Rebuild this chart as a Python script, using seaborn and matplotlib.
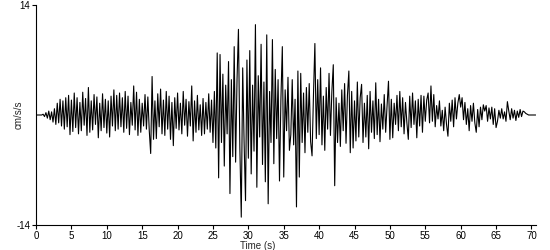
import numpy as np
import pandas as pd
import matplotlib
matplotlib.use("Agg")
import matplotlib.pyplot as plt
import seaborn as sns

# sampling step of the read-off trace (s)
dt = 0.2

# acceleration (cm/s/s)
pre_event = [
    0, 0, 0, 0, 0, 0.1, -0.2, 0.3, -0.4, 0.5,
    -0.6, 0.4, -0.9, 0.8, -1.2, 1.5, -1.0, 2.0, -1.4, 1.8,
    -1.8, 2.2, -1.5, 2.5, -2.5, 1.9, -2.1, 2.8, -1.6, 2.2,
    -2.4, 1.6, -2.0, 2.9, -1.3, 2.1, -2.6, 3.5, -2.2, 1.8,
    -1.9, 2.6, -1.2, 2.3, -2.9, 1.5, -2.0, 2.7, -1.6, 2.0,
    -2.3, 1.8, -2.8, 2.4, -1.4, 3.2, -2.0, 2.5, -1.8, 2.8,
    -1.5, 2.2, -2.2, 3.0, -1.7, 2.4, -2.5, 1.6, -1.3, 3.7,
    -1.9, 2.9, -2.6, 2.0, -2.2, 1.5, -1.4, 2.6, -1.8, 2.3,
    -2.0, -4.9, 4.9, -3.1, 1.8, -3.0, 2.7, -1.5, 3.3, -2.4,
    1.9, -2.6, 3.0, -1.8, 2.4, -3.1, 1.6, -3.9, 2.2, -1.7,
    2.8, -1.9, 1.5, -2.4, 3.0, -1.3, 2.0, -2.7, 1.7, -1.4,
    3.7, -3.3, 1.8, -2.2, 2.5, -1.9, 1.3, -2.6, 2.1, -2.4,
    1.6, -1.8, 2.7, -2.2, 1.9, -3.5, 3.0, -4.2, 7.9, -8.0,
]
strong_motion = [
    7.7, -3.5, 5.2, -6.5, 3.8, -2.4, 6.8, -10.0, 4.5, -5.3,
    8.7, -6.0, 4.5, 10.9, -4.2, -13.0, 6.0, -3.5, -10.9, 7.0,
    -5.5, 8.2, -7.5, 3.8, -4.6, 11.5, -9.2, 5.0, -2.8, 9.0,
    -6.3, 4.2, -8.5, 10.2, -11.3, 3.0, -3.5, 9.6, -6.2, 5.8,
    -3.0, 4.5, -8.4, 2.0, 8.7, -7.9, 3.2, -2.0, 4.8, -4.5,
    -2.5, 4.5, -3.8, 2.0, -11.7, 5.6, -7.9, 5.3, -3.5, 2.8,
    -4.8, 3.5, -2.2, 4.0, -3.4, -5.2, 2.5, 9.1, -3.0, 4.5,
    -2.5, 6.0, -3.8, 2.4, -4.5, 3.5, -1.8, 5.3, -2.6, 3.0,
    6.4, -9.0, 2.2, -3.5, 1.5, -4.0, 3.2, -2.0, 4.0, -3.6,
]
coda = [
    2.5, 5.6, -4.8, 3.0, -4.2, 1.8, -3.3, 4.2, -2.8, 2.2,
    3.9, -3.5, 1.5, -2.8, 2.5, -4.3, 3.0, -2.2, 1.8, -3.0,
    4.1, -2.5, 2.0, -3.4, 1.4, -1.8, 2.6, -2.2, 1.2, 4.3,
    -3.1, 2.0, -2.9, 1.5, -1.2, 2.5, -2.0, 3.0, -1.5, 2.2,
    -2.4, 1.6, -1.0, -3.1, 2.4, -1.6, 2.8, -1.2, 1.8, -2.9,
    2.0, -1.4, 2.5, -2.2, 2.4, -0.8, 1.9, 2.8, -1.0, 3.7,
    -0.8, 2.6, -1.5, 1.2, -0.5, 1.8, -1.4, 0.6, -2.0, 1.0,
    -1.2, -2.7, 1.5, -0.8, 1.9, -1.5, 2.2, -0.5, 1.5, 2.6,
    1.0, 2.2, -0.6, 1.6, -1.2, 0.8, -2.0, 1.2, -0.8, 1.5,
    -1.0, -2.2, 0.7, -1.5, 1.0, -0.6, 1.3, 0.5, 1.2, -0.8,
    0.9, -0.5, 1.0, -1.2, 0.8, -1.6, -0.8, 0.6, -0.4, 0.8,
    -0.5, 0.4, -0.8, 1.7, 0.5, -0.6, 0.8, -0.4, 0.6, -0.7,
    0.5, -0.3, 0.7, -0.2, 0.5, 0.4, 0.2, 0.1, 0, 0,
    0, 0, 0, 0,
]

x_ticks = [0, 5, 10, 15, 20, 25, 30, 35, 40, 45, 50, 55, 60, 65, 70]
y_ticks = [-14, 14]

accel = np.array(pre_event + strong_motion + coda, dtype=float)
time = np.arange(len(accel)) * dt
df = pd.DataFrame({"time": time, "accel": accel})

sns.set_style("ticks")
plt.rcParams["font.family"] = ["Liberation Sans", "DejaVu Sans"]

fig = plt.figure(figsize=(5.5, 2.5), dpi=100)
ax = fig.add_axes([0.0655, 0.10, 0.9085, 0.88])
sns.lineplot(data=df, x="time", y="accel", ax=ax, color="black",
             linewidth=0.8, estimator=None, sort=False)

ax.set_xlim(0, time[-1])
ax.set_ylim(-14, 14)
ax.set_xticks(x_ticks)
ax.set_xticklabels([str(v) for v in x_ticks])
ax.set_yticks(y_ticks)
ax.set_yticklabels([str(v) for v in y_ticks])
ax.tick_params(axis="both", labelsize=7, length=3, width=0.8, color="black",
               pad=1, labelcolor="black")
for s in ["top", "right"]:
    ax.spines[s].set_visible(False)
for s in ["left", "bottom"]:
    ax.spines[s].set_color("black")
    ax.spines[s].set_linewidth(0.8)
ax.set_xlabel("Time (s)", fontsize=7)
ax.set_ylabel("cm/s/s", fontsize=7)
ax.xaxis.set_label_coords(0.444, -0.074)
ax.yaxis.set_label_coords(-0.035, 0.5)
ax.xaxis.label.set_verticalalignment("top")
ax.yaxis.label.set_verticalalignment("center")

fig.savefig("out.png", dpi=100, facecolor="white")
